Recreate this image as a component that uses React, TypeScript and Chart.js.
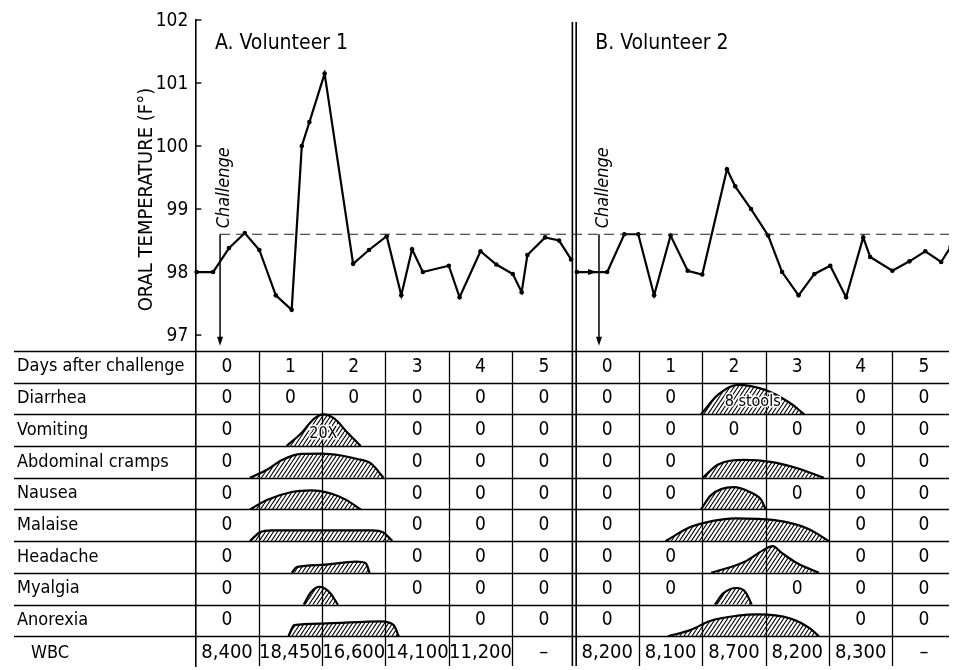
import React, { useEffect, useRef } from 'react';
import { Chart, registerables } from 'chart.js';

Chart.register(...registerables);

const FONT = "'Liberation Sans Narrow', 'DejaVu Sans Condensed', 'Roboto Condensed', Roboto, sans-serif";

// ---- Temperature data (x = days after challenge, panel-local) ----
const TEMP_A_DAY = [0.02, 0.28, 0.53, 0.78, 1.01, 1.27, 1.52, 1.68, 1.80, 2.04, 2.49, 2.74, 3.02, 3.25, 3.42, 3.59, 4.0, 4.17, 4.5, 4.75, 5.01, 5.15, 5.24, 5.52, 5.74, 5.93];
const TEMP_A = [98.0, 98.0, 98.38, 98.62, 98.35, 97.63, 97.4, 100.0, 100.38, 101.15, 98.13, 98.35, 98.57, 97.63, 98.36, 98.0, 98.1, 97.6, 98.33, 98.12, 97.97, 97.68, 98.27, 98.55, 98.5, 98.2];
const TEMP_B_DAY = [0.02, 0.50, 0.77, 0.99, 1.24, 1.50, 1.77, 2.00, 2.39, 2.52, 2.77, 3.04, 3.26, 3.52, 3.77, 4.02, 4.27, 4.54, 4.65, 5.0, 5.27, 5.52, 5.77, 5.92];
const TEMP_B = [98.0, 98.0, 98.6, 98.6, 97.63, 98.58, 98.02, 97.96, 99.63, 99.36, 99.0, 98.58, 98.0, 97.63, 97.97, 98.1, 97.6, 98.55, 98.24, 98.02, 98.17, 98.33, 98.16, 98.4];
const NORMAL_TEMP = 98.6;
const CHALLENGE_DAY = [0.39, 0.37];
const Y_TICKS = [97, 98, 99, 100, 101, 102];
const PANEL_TITLES = ['A. Volunteer 1', 'B. Volunteer 2'];
const PANEL_OFFSET = [0, 6];

// ---- Table ----
const DAYS = ['0', '1', '2', '3', '4', '5'];
const ROW_LABELS = ['Days after challenge', 'Diarrhea', 'Vomiting', 'Abdominal cramps', 'Nausea', 'Malaise', 'Headache', 'Myalgia', 'Anorexia', 'WBC'];
const CELLS_A = [
  ['0', '0', '0', '0', '0', '0'],
  ['0', '', '', '0', '0', '0'],
  ['0', '', '', '0', '0', '0'],
  ['0', '', '', '0', '0', '0'],
  ['0', '', '', '0', '0', '0'],
  ['0', '', '', '0', '0', '0'],
  ['0', '', '', '0', '0', '0'],
  ['0', '', '', '', '0', '0'],
];
const CELLS_B = [
  ['0', '0', '', '', '0', '0'],
  ['0', '0', '0', '0', '0', '0'],
  ['0', '0', '', '', '0', '0'],
  ['0', '0', '', '0', '0', '0'],
  ['0', '', '', '', '0', '0'],
  ['0', '0', '', '', '0', '0'],
  ['0', '0', '', '0', '0', '0'],
  ['0', '', '', '', '0', '0'],
];
const WBC_A = ['8,400', '18,450', '16,600', '14,100', '11,200', '–'];
const WBC_B = ['8,200', '8,100', '8,700', '8,200', '8,300', '–'];

// symptom intensity profiles: [day, relative height]
const SHAPES_A = [
  { symptom: 'Vomiting', note: '20X', pts: [[1.44, 0], [1.67, 0.4], [1.88, 0.87], [2.02, 1.0], [2.19, 0.87], [2.41, 0.4], [2.61, 0]] },
  { symptom: 'Abdominal cramps', note: '', pts: [[0.86, 0], [1.13, 0.25], [1.36, 0.55], [1.67, 0.75], [1.99, 0.76], [2.3, 0.7], [2.54, 0.6], [2.77, 0.45], [2.97, 0]] },
  { symptom: 'Nausea', note: '', pts: [[0.86, 0], [1.13, 0.3], [1.52, 0.55], [1.83, 0.6], [2.14, 0.5], [2.38, 0.3], [2.61, 0]] },
  { symptom: 'Malaise', note: '', pts: [[0.86, 0], [1.02, 0.28], [1.2, 0.34], [2.79, 0.34], [2.96, 0.28], [3.11, 0]] },
  { symptom: 'Headache', note: '', pts: [[1.52, 0], [1.6, 0.18], [1.99, 0.25], [2.54, 0.35], [2.69, 0.3], [2.75, 0]] },
  { symptom: 'Myalgia', note: '', pts: [[1.71, 0], [1.83, 0.4], [1.96, 0.56], [2.11, 0.4], [2.25, 0]] },
  { symptom: 'Anorexia', note: '', pts: [[1.47, 0], [1.56, 0.35], [1.99, 0.4], [2.93, 0.47], [3.13, 0.35], [3.21, 0]] },
];
const SHAPES_B = [
  { symptom: 'Diarrhea', note: '8 stools', pts: [[1.98, 0], [2.25, 0.62], [2.56, 0.93], [2.98, 0.78], [3.39, 0.35], [3.61, 0]] },
  { symptom: 'Abdominal cramps', note: '', pts: [[2.01, 0], [2.25, 0.42], [2.67, 0.56], [3.08, 0.5], [3.5, 0.3], [3.92, 0]] },
  { symptom: 'Nausea', note: '', pts: [[1.98, 0], [2.14, 0.45], [2.49, 0.7], [2.75, 0.55], [2.93, 0.3], [3.0, 0]] },
  { symptom: 'Malaise', note: '', pts: [[1.42, 0], [1.82, 0.45], [2.17, 0.64], [2.51, 0.72], [3.14, 0.66], [3.66, 0.4], [4.0, 0]] },
  { symptom: 'Headache', note: '', pts: [[2.14, 0], [2.67, 0.35], [2.95, 0.7], [3.11, 0.84], [3.26, 0.62], [3.5, 0.3], [3.84, 0]] },
  { symptom: 'Myalgia', note: '', pts: [[2.2, 0], [2.33, 0.35], [2.54, 0.52], [2.68, 0.4], [2.78, 0]] },
  { symptom: 'Anorexia', note: '', pts: [[1.46, 0], [1.82, 0.2], [2.12, 0.48], [2.56, 0.65], [2.87, 0.69], [3.39, 0.56], [3.7, 0.25], [3.84, 0]] },
];

function makeHatch(): CanvasPattern | string {
  const c = document.createElement('canvas');
  const w = 4, h = 6;
  c.width = w; c.height = h;
  const g = c.getContext('2d');
  if (!g) return '#888';
  g.strokeStyle = '#000';
  g.lineWidth = 1.1;
  g.beginPath();
  for (let k = -1; k <= 1; k++) {
    g.moveTo(k * w, h);
    g.lineTo(k * w + w, 0);
  }
  g.stroke();
  return g.createPattern(c, 'repeat') || '#888';
}

function line(ctx: CanvasRenderingContext2D, x1: number, y1: number, x2: number, y2: number) {
  ctx.beginPath();
  ctx.moveTo(x1, y1);
  ctx.lineTo(x2, y2);
  ctx.stroke();
}

function arrowHead(ctx: CanvasRenderingContext2D, x: number, y: number, dir: 'down' | 'right') {
  ctx.beginPath();
  if (dir === 'down') {
    ctx.moveTo(x, y);
    ctx.lineTo(x - 3, y - 9);
    ctx.lineTo(x + 3, y - 9);
  } else {
    ctx.moveTo(x, y);
    ctx.lineTo(x - 9, y - 3);
    ctx.lineTo(x - 9, y + 3);
  }
  ctx.closePath();
  ctx.fill();
}

const zeroPad = (s: any) => {
  s.paddingTop = 0;
  s.paddingBottom = 0;
  s.paddingLeft = 0;
  s.paddingRight = 0;
};

const tablePlugin = {
  id: 'tablePlugin',
  beforeDatasetsDraw(chart: any) {
    const { ctx, chartArea } = chart;
    const x = chart.scales.x, y = chart.scales.y, yT = chart.scales.yT;
    ctx.save();
    ctx.strokeStyle = '#000';
    ctx.lineWidth = 1.3;
    for (let r = 0; r < ROW_LABELS.length; r++) {
      const py = Math.round(yT.getPixelForValue(r)) + 0.5;
      line(ctx, chartArea.left + 10, py, chartArea.right, py);
    }
    const top = yT.getPixelForValue(0);
    const bottom = chartArea.bottom;
    PANEL_OFFSET.forEach((off) => {
      for (let c = 1; c < DAYS.length; c++) {
        const px = Math.round(x.getPixelForValue(off + c)) + 0.5;
        line(ctx, px, top, px, bottom);
      }
    });
    // double separator between panels
    ctx.lineWidth = 1.6;
    const sepTop = y.getPixelForValue(101.97);
    [5.95, 6.01].forEach((d) => {
      const px = x.getPixelForValue(d);
      line(ctx, px, sepTop, px, bottom);
    });
    ctx.restore();
  },
  afterDatasetsDraw(chart: any) {
    const { ctx, chartArea } = chart;
    const x = chart.scales.x, y = chart.scales.y, yT = chart.scales.yT;
    ctx.save();
    ctx.fillStyle = '#000';
    ctx.strokeStyle = '#000';
    const axisX = x.getPixelForValue(0);

    // tick marks and labels of the temperature scale
    ctx.lineWidth = 1.4;
    ctx.font = `19px ${FONT}`;
    ctx.textAlign = 'right';
    ctx.textBaseline = 'middle';
    y.ticks.forEach((t: any) => {
      const py = y.getPixelForValue(t.value);
      line(ctx, axisX, py, axisX + 6, py);
      ctx.fillText(String(t.value), axisX - 7, py + 1);
    });

    // y title
    ctx.save();
    ctx.font = `20px ${FONT}`;
    ctx.textAlign = 'center';
    ctx.textBaseline = 'middle';
    ctx.translate(147, y.getPixelForValue(99.15));
    ctx.rotate(-Math.PI / 2);
    ctx.fillText('ORAL TEMPERATURE (F°)', 0, 0);
    ctx.restore();

    // panel titles
    ctx.font = `21px ${FONT}`;
    ctx.textAlign = 'left';
    ctx.textBaseline = 'middle';
    PANEL_TITLES.forEach((t, i) => {
      ctx.fillText(t, x.getPixelForValue(PANEL_OFFSET[i] + 0.31), y.getPixelForValue(101.63));
    });

    // challenge arrows
    CHALLENGE_DAY.forEach((d, i) => {
      const px = x.getPixelForValue(PANEL_OFFSET[i] + d);
      const pTop = y.getPixelForValue(NORMAL_TEMP);
      const pBot = y.getPixelForValue(96.83);
      ctx.lineWidth = 1.5;
      line(ctx, px, pTop, px, pBot - 6);
      arrowHead(ctx, px, pBot, 'down');
      ctx.save();
      ctx.font = `italic 18px ${FONT}`;
      ctx.textAlign = 'left';
      ctx.textBaseline = 'middle';
      ctx.translate(px + 4, pTop - 6);
      ctx.rotate(-Math.PI / 2);
      ctx.fillText('Challenge', 0, 0);
      ctx.restore();
    });
    // horizontal arrow in panel B toward the challenge
    {
      const px = x.getPixelForValue(PANEL_OFFSET[1] + CHALLENGE_DAY[1]) - 2;
      arrowHead(ctx, px, y.getPixelForValue(TEMP_B[0]), 'right');
    }

    // row labels
    ctx.textBaseline = 'middle';
    ctx.font = `18px ${FONT}`;
    ROW_LABELS.forEach((lab, r) => {
      const py = yT.getPixelForValue(r + 0.5);
      if (lab === 'WBC') {
        ctx.textAlign = 'center';
        ctx.fillText(lab, chartArea.left + 46, py + 1);
      } else {
        ctx.textAlign = 'left';
        ctx.fillText(lab, chartArea.left + 13, py);
      }
    });

    // cells
    ctx.textAlign = 'center';
    const panels = [
      { off: PANEL_OFFSET[0], cells: CELLS_A, wbc: WBC_A },
      { off: PANEL_OFFSET[1], cells: CELLS_B, wbc: WBC_B },
    ];
    panels.forEach((p) => {
      for (let c = 0; c < DAYS.length; c++) {
        const px = x.getPixelForValue(p.off + c + 0.5);
        ctx.font = `19px ${FONT}`;
        ctx.fillText(DAYS[c], px, yT.getPixelForValue(0.5));
        p.cells.forEach((row, r) => {
          if (row[c]) ctx.fillText(row[c], px, yT.getPixelForValue(r + 1.5));
        });
        ctx.font = `20px ${FONT}`;
        ctx.fillText(p.wbc[c], px, yT.getPixelForValue(9.5) + 1);
      }
    });

    // shape notes
    ctx.font = `16px ${FONT}`;
    ctx.lineWidth = 3;
    ctx.strokeStyle = '#fff';
    [{ off: 0, shapes: SHAPES_A }, { off: 6, shapes: SHAPES_B }].forEach((p) => {
      p.shapes.forEach((s) => {
        if (!s.note) return;
        const r = ROW_LABELS.indexOf(s.symptom);
        const xs = s.pts.map((q) => q[0]);
        const peak = s.pts.reduce((a, b) => (b[1] > a[1] ? b : a));
        const cx = s.note.length > 4 ? (Math.min(...xs) + Math.max(...xs)) / 2 : peak[0];
        const px = x.getPixelForValue(p.off + cx);
        const py = yT.getPixelForValue(r + 0.62);
        ctx.strokeText(s.note, px, py);
        ctx.fillText(s.note, px, py);
      });
    });
    ctx.restore();
  },
};

export default function App() {
  const ref = useRef<HTMLCanvasElement>(null);
  useEffect(() => {
    document.body.style.margin = '0';
    const canvas = ref.current;
    if (!canvas) return;
    const hatch = makeHatch();

    const tempStyle = {
      borderColor: '#000',
      backgroundColor: '#000',
      borderWidth: 2.2,
      pointRadius: 2.3,
      pointBackgroundColor: '#000',
      pointBorderWidth: 0,
      tension: 0,
      fill: false,
      xAxisID: 'x',
      yAxisID: 'y',
    };

    const shapeSets: any[] = [];
    [{ off: PANEL_OFFSET[0], shapes: SHAPES_A }, { off: PANEL_OFFSET[1], shapes: SHAPES_B }].forEach((p) => {
      p.shapes.forEach((s) => {
        const r = ROW_LABELS.indexOf(s.symptom);
        shapeSets.push({
          data: s.pts.map((q) => ({ x: p.off + q[0], y: r + 1 - q[1] })),
          xAxisID: 'x',
          yAxisID: 'yT',
          borderColor: '#000',
          borderWidth: 2.2,
          backgroundColor: hatch,
          fill: { value: r + 1 },
          pointRadius: 0,
          cubicInterpolationMode: 'monotone',
        });
      });
    });

    const chart = new Chart(canvas, {
      type: 'line',
      data: {
        datasets: [
          ...shapeSets,
          {
            data: [
              { x: CHALLENGE_DAY[0], y: NORMAL_TEMP },
              { x: PANEL_OFFSET[1] + 6, y: NORMAL_TEMP },
            ],
            borderColor: '#222',
            borderWidth: 1.2,
            borderDash: [10, 6],
            pointRadius: 0,
            fill: false,
            xAxisID: 'x',
            yAxisID: 'y',
          },
          { ...tempStyle, data: TEMP_A_DAY.map((d, i) => ({ x: PANEL_OFFSET[0] + d, y: TEMP_A[i] })) },
          { ...tempStyle, data: TEMP_B_DAY.map((d, i) => ({ x: PANEL_OFFSET[1] + d, y: TEMP_B[i] })) },
        ],
      },
      options: {
        animation: false,
        responsive: false,
        layout: { padding: { top: 20, left: 0, right: 0, bottom: 0 } },
        plugins: { legend: { display: false }, tooltip: { enabled: false } },
        scales: {
          x: { type: 'linear', min: -3.02, max: 11.894, display: false, afterFit: zeroPad },
          y: {
            type: 'linear',
            min: 91.748,
            max: 102,
            position: { x: 0 },
            afterBuildTicks: (s: any) => {
              s.ticks = Y_TICKS.map((v) => ({ value: v }));
            },
            afterFit: zeroPad,
            ticks: { display: false },
            grid: { drawOnChartArea: false, drawTicks: false },
            border: { color: '#000', width: 1.6 },
          },
          yT: { type: 'linear', min: -10.44, max: 9.94, reverse: true, display: false, afterFit: zeroPad },
        },
      } as any,
      plugins: [tablePlugin],
    } as any);
    return () => chart.destroy();
  }, []);
  return (
    <div style={{ width: 953, height: 670, background: '#fff' }}>
      <canvas ref={ref} width={953} height={670} style={{ display: 'block' }} />
    </div>
  );
}
